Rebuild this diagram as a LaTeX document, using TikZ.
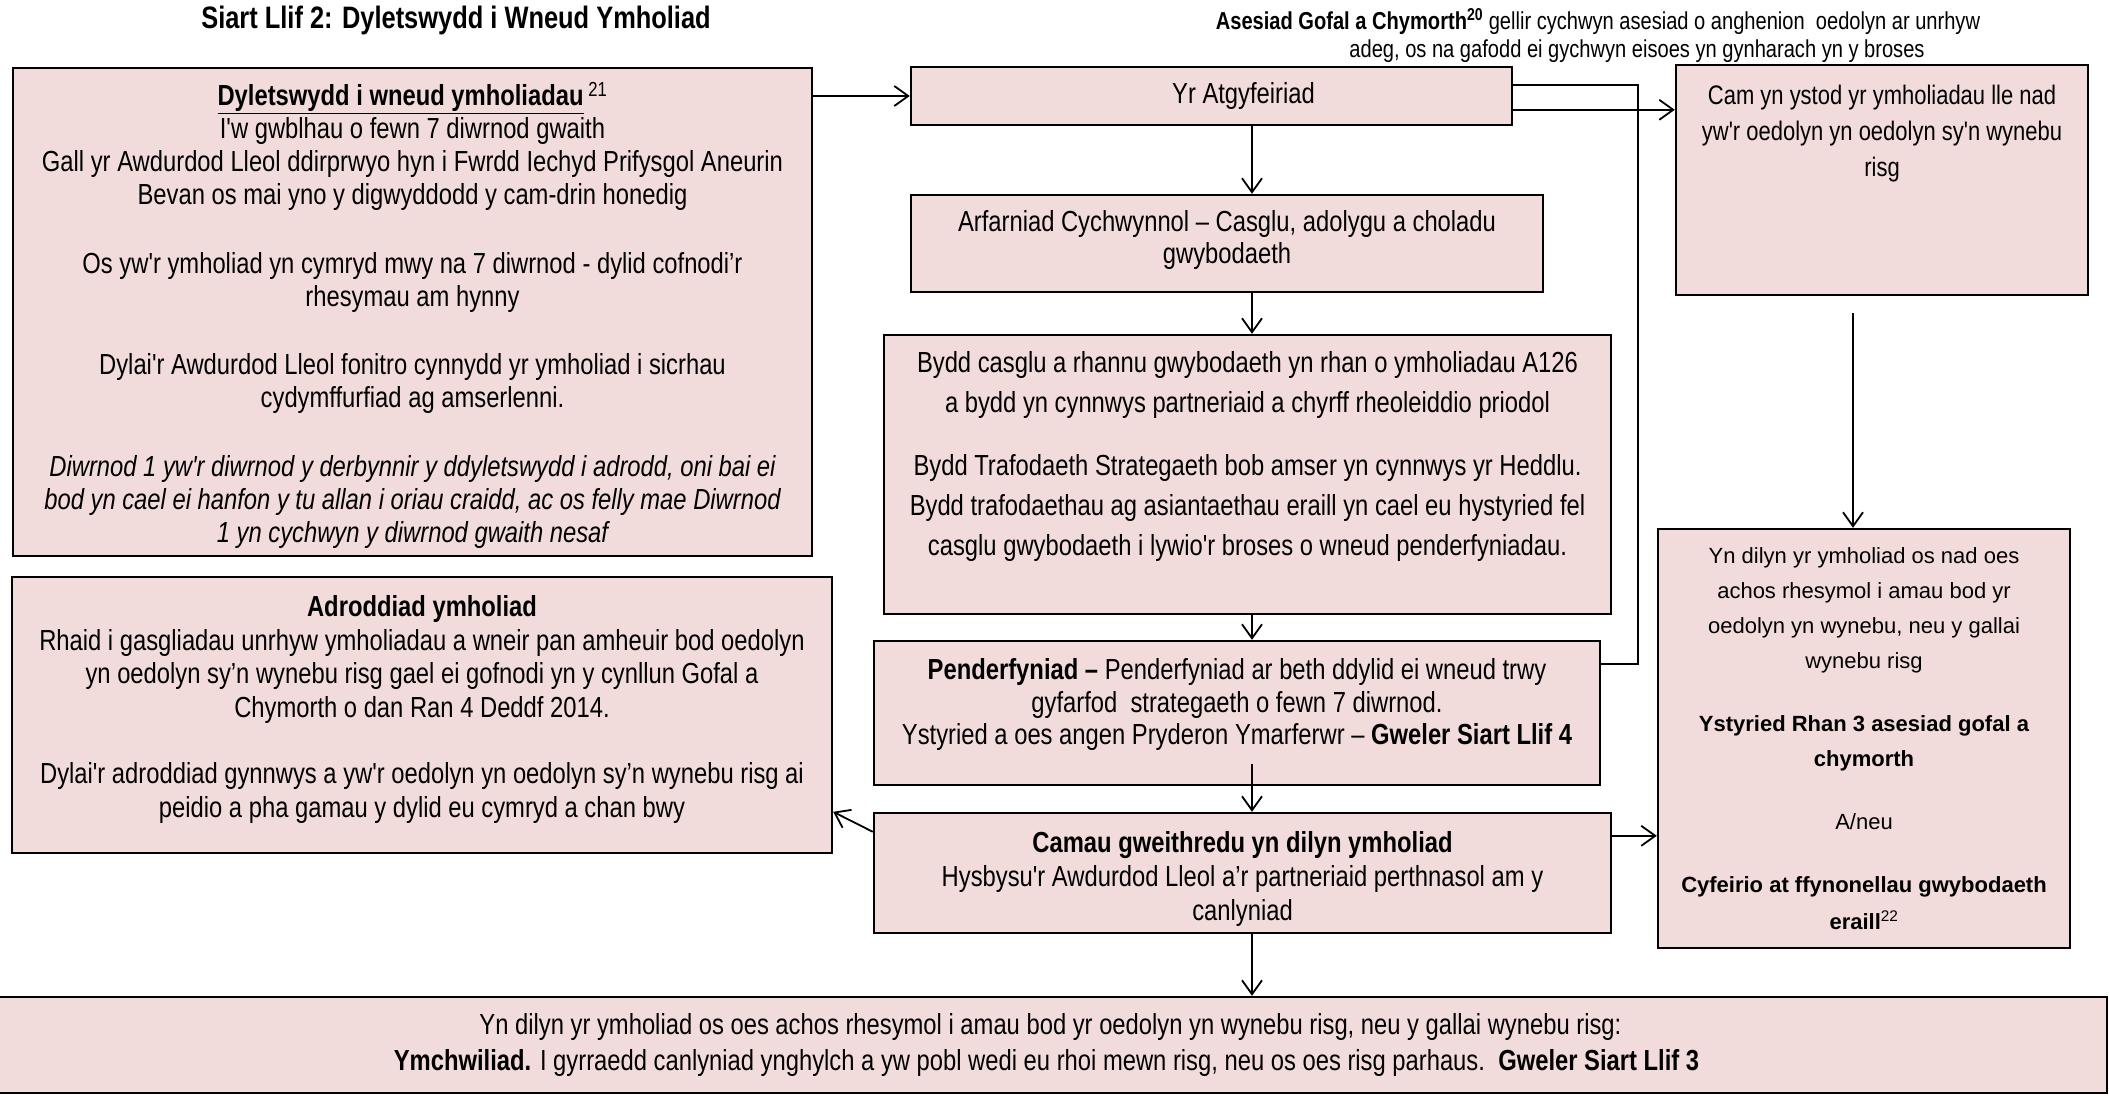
\documentclass[tikz,border=0pt]{standalone}
\usepackage{fontspec}
\newfontfamily\nfont{Liberation Sans}[FakeStretch=0.82]
\newfontfamily\wfont{Liberation Sans}
\usetikzlibrary{arrows.meta,calc}
\definecolor{boxpink}{RGB}{242,220,219}
\newcommand{\btxt}[4]{\parbox[c][#2][t]{#1}{\centering\vspace*{#3}\strut #4}}
\begin{document}
\begin{tikzpicture}[x=1pt,y=-1pt,
  box/.style={draw=black, fill=boxpink, line width=2.4pt, inner sep=0pt, rectangle},
  conn/.style={line width=1.8pt, draw=black},
  arr/.style={conn, -{Straight Barb[length=14pt,width=20pt]}},
  nt/.style={font={\nfont\fontsize{29}{#1}\selectfont}},
  wt/.style={font={\wfont\fontsize{22}{#1}\selectfont}}]
\fill[white] (0,0) rectangle (2109,1095);
\useasboundingbox (0,0) rectangle (2109,1095);

% title and note
\node[font={\nfont\bfseries\fontsize{31}{36}\selectfont}] (title) at (456,20) {Siart Llif 2: Dyletswydd i Wneud Ymholiad};
\node[font={\nfont\fontsize{24.5}{28}\selectfont}, align=center] (note) at (1598,36)
  {\textbf{Asesiad Gofal a Chymorth\textsuperscript{20}} gellir cychwyn asesiad o anghenion\ \ oedolyn ar unrhyw\\
   \hspace*{78pt}adeg, os na gafodd ei gychwyn eisoes yn gynharach yn y broses};

% boxes
\node[box, nt=33] (duty) at (412.5,312) {\btxt{799pt}{488pt}{14.5pt}{%
  \textbf{\underline{Dyletswydd i wneud ymholiadau}}\,\textsuperscript{21}\\
  I'w gwblhau o fewn 7 diwrnod gwaith\\
  Gall yr Awdurdod Lleol ddirprwyo hyn i Fwrdd Iechyd Prifysgol Aneurin\\
  Bevan os mai yno y digwyddodd y cam-drin honedig\\[35.5pt]
  Os yw'r ymholiad yn cymryd mwy na 7 diwrnod - dylid cofnodi’r\\
  rhesymau am hynny\\[35.5pt]
  Dylai'r Awdurdod Lleol fonitro cynnydd yr ymholiad i sicrhau\\
  cydymffurfiad ag amserlenni.\\[35.5pt]
  \itshape Diwrnod 1 yw'r diwrnod y derbynnir y ddyletswydd i adrodd, oni bai ei\\
  bod yn cael ei hanfon y tu allan i oriau craidd, ac os felly mae Diwrnod\\
  1 yn cychwyn y diwrnod gwaith nesaf}};

\node[box, nt=33] (atg) at (1211.5,96) {\btxt{601pt}{58pt}{13.5pt}{\hspace*{64pt}Yr Atgyfeiriad}};

\node[box, nt=32] (arf) at (1227,243.5) {\btxt{632pt}{97pt}{13.6pt}{%
  Arfarniad Cychwynnol – Casglu, adolygu a choladu\\
  gwybodaeth}};

\node[box, nt=40] (bydd) at (1247.5,474.5) {\btxt{727pt}{279pt}{9pt}{%
  Bydd casglu a rhannu gwybodaeth yn rhan o ymholiadau A126\\
  a bydd yn cynnwys partneriaid a chyrff rheoleiddio priodol\\[23pt]
  Bydd Trafodaeth Strategaeth bob amser yn cynnwys yr Heddlu.\\
  Bydd trafodaethau ag asiantaethau eraill yn cael eu hystyried fel\\
  casglu gwybodaeth i lywio'r broses o wneud penderfyniadau.}};

\node[box, nt=32.5] (pend) at (1237,713) {\btxt{726pt}{144pt}{16pt}{%
  \textbf{Penderfyniad –} Penderfyniad ar beth ddylid ei wneud trwy\\
  gyfarfod\ \ strategaeth o fewn 7 diwrnod.\\
  Ystyried a oes angen Pryderon Ymarferwr – \textbf{Gweler Siart Llif 4}}};

\node[box, nt=34] (camau) at (1242.5,873) {\btxt{737pt}{120pt}{16pt}{%
  \textbf{Camau gweithredu yn dilyn ymholiad}\\
  Hysbysu'r Awdurdod Lleol a’r partneriaid perthnasol am y\\
  canlyniad}};

\node[box, nt=33.5] (adr) at (422,715) {\btxt{820pt}{276pt}{16.5pt}{%
  \textbf{Adroddiad ymholiad}\\
  Rhaid i gasgliadau unrhyw ymholiadau a wneir pan amheuir bod oedolyn\\
  yn oedolyn sy’n wynebu risg gael ei gofnodi yn y cynllun Gofal a\\
  Chymorth o dan Ran 4 Deddf 2014.\\[33pt]
  Dylai'r adroddiad gynnwys a yw'r oedolyn yn oedolyn sy’n wynebu risg ai\\
  peidio a pha gamau y dylid eu cymryd a chan bwy}};

\node[box, font={\nfont\fontsize{26.8}{36}\selectfont}] (cam) at (1882,180) {\btxt{412pt}{230pt}{14pt}{%
  Cam yn ystod yr ymholiadau lle nad\\
  yw'r oedolyn yn oedolyn sy'n wynebu\\
  risg}};

\node[box, wt=35] (yn) at (1864,738.5) {\btxt{412pt}{419pt}{9.5pt}{%
  Yn dilyn yr ymholiad os nad oes\\
  achos rhesymol i amau bod yr\\
  oedolyn yn wynebu, neu y gallai\\
  wynebu risg\\[28pt]
  \textbf{Ystyried Rhan 3 asesiad gofal a}\\
  \textbf{chymorth}\\[28pt]
  A/neu\\[28pt]
  \textbf{Cyfeirio at ffynonellau gwybodaeth}\\[2pt]
  \textbf{eraill}\textsuperscript{22}}};

\node[box, nt=36] (bottom) at (1050.5,1045) {\btxt{2113pt}{96pt}{12pt}{%
  Yn dilyn yr ymholiad os oes achos rhesymol i amau bod yr oedolyn yn wynebu risg, neu y gallai wynebu risg:\hspace*{24pt}\\
  \textbf{Ymchwiliad.} I gyrraedd canlyniad ynghylch a yw pobl wedi eu rhoi mewn risg, neu os oes risg parhaus.\ \ \textbf{Gweler Siart Llif 3}\hspace*{8pt}}};

% connectors
\coordinate (spine) at (1252,0);
\coordinate (spineR) at (1853,0);
\coordinate (vx) at (1638,0);
\coordinate (a1) at ($(atg.north east)+(0,19)$);
\coordinate (a2) at ($(atg.north east)+(0,44)$);
\coordinate (p1) at ($(pend.north east)+(0,24)$);
\coordinate (c6) at ($(camau.north east)+(0,24)$);
\coordinate (c5) at ($(camau.north west)+(0,20)$);
\coordinate (pb) at ($(pend.south -| spine)+(0,-22)$);
\coordinate (cb) at ($(cam.south -| spineR)+(0,17)$);

\draw[arr] (duty.east |- atg.west) -- (atg.west);
\draw[arr] (atg.south -| spine) -- (arf.north -| spine);
\draw[arr] (arf.south -| spine) -- (bydd.north -| spine);
\draw[arr] (bydd.south -| spine) -- (pend.north -| spine);
\draw[arr] (pb) -- (camau.north -| spine);
\draw[arr] (camau.south -| spine) -- (bottom.north -| spine);
\draw[arr] (c5) -- (adr.east |- camau.north);
\draw[arr] (c6) -- (c6 -| yn.west);
\draw[conn] (a1) -| (vx |- p1) -- (p1);
\draw[arr] (a2) -- (a2 -| cam.west);
\draw[arr] (cb) -- (yn.north -| spineR);
\end{tikzpicture}
\end{document}
